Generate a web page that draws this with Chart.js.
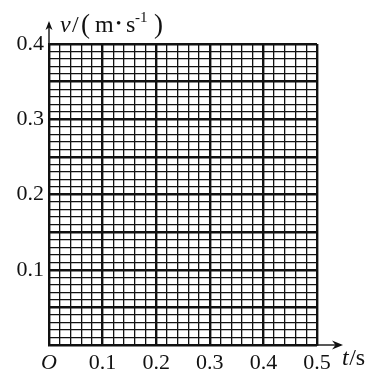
<!DOCTYPE html>
<html>
<head>
<meta charset="utf-8">
<script src="https://cdn.jsdelivr.net/npm/chart.js@4/dist/chart.umd.min.js"></script>
<style>
  html, body { margin: 0; padding: 0; background: #fff; }
  #wrap { width: 369px; height: 371px; position: relative; }
</style>
</head>
<body>
<div id="wrap"><canvas id="c" width="369" height="371"></canvas></div>
<script>
// ---- data ----
const xRange = [0, 0.5];          // t / s
const yRange = [0, 0.4];          // v / (m·s^-1)
const xMinorStep = 0.02;
const yMinorStep = 0.01;
const xTickLabels = ['O', '0.1', '0.2', '0.3', '0.4', '0.5'];
const yTickLabels = ['', '0.1', '0.2', '0.3', '0.4'];
const xTitle = ['t', '/s'];
const yTitle = ['v', '/', '(', 'm', '•', 's', '-1', ')'];
const points = [];                // blank answer grid: no plotted points

const SERIF = '"Liberation Serif", "Times New Roman", serif';
const INK = '#111';

function labelFor(value, labels, major) {
  const k = Math.round(value / major * 1000) / 1000;
  if (Math.abs(k - Math.round(k)) < 1e-6) return labels[Math.round(k)] ?? '';
  return '';
}

const axesPlugin = {
  id: 'axesDecor',
  afterDraw(chart) {
    const { ctx, chartArea: a } = chart;
    const xs = chart.scales.x, ys = chart.scales.y;
    const x0 = xs.getPixelForValue(xRange[0]);
    const y0 = ys.getPixelForValue(yRange[0]);
    ctx.save();
    ctx.strokeStyle = INK;
    ctx.fillStyle = INK;
    ctx.lineWidth = 1.4;
    // y axis extension + arrow
    const yTip = a.top - 23;
    ctx.beginPath(); ctx.moveTo(x0, a.top); ctx.lineTo(x0, yTip + 2); ctx.stroke();
    ctx.beginPath();
    ctx.moveTo(x0, yTip);
    ctx.lineTo(x0 - 3.5, yTip + 9);
    ctx.lineTo(x0, yTip + 6.5);
    ctx.lineTo(x0 + 3.5, yTip + 9);
    ctx.closePath(); ctx.fill();
    // x axis extension + arrow
    const xTip = a.right + 26;
    ctx.beginPath(); ctx.moveTo(a.right, y0); ctx.lineTo(xTip - 2, y0); ctx.stroke();
    ctx.beginPath();
    ctx.moveTo(xTip, y0);
    ctx.lineTo(xTip - 11, y0 - 4.5);
    ctx.lineTo(xTip - 7.5, y0);
    ctx.lineTo(xTip - 11, y0 + 4.5);
    ctx.closePath(); ctx.fill();

    // y title: v/(m·s^-1)
    ctx.textBaseline = 'alphabetic';
    ctx.textAlign = 'left';
    const by = a.top - 12;
    const yParts = [
      { t: yTitle[0], dx: 11,  f: 'italic 24px ' + SERIF, dy: 0 },
      { t: yTitle[1], dx: 23,  f: '24px ' + SERIF, dy: 0 },
      { t: yTitle[2], dx: 32,  f: '27px ' + SERIF, dy: 1 },
      { t: yTitle[3], dx: 46,  f: '24px ' + SERIF, dy: 0 },
      { t: yTitle[4], dx: 67,  f: '15px ' + SERIF, dy: -4 },
      { t: yTitle[5], dx: 77,  f: '24px ' + SERIF, dy: 0 },
      { t: yTitle[6], dx: 86,  f: '15px ' + SERIF, dy: -10 },
      { t: yTitle[7], dx: 105, f: '27px ' + SERIF, dy: 1 }
    ];
    for (const p of yParts) { ctx.font = p.f; ctx.fillText(p.t, x0 + p.dx, by + p.dy); }

    // x title: t/s
    const bx = y0 + 20;
    ctx.font = 'italic 24px ' + SERIF;
    ctx.fillText(xTitle[0], a.right + 25, bx);
    const tw = ctx.measureText(xTitle[0]).width;
    ctx.font = '24px ' + SERIF;
    ctx.fillText(xTitle[1], a.right + 25 + tw + 0.5, bx);
    ctx.restore();
  }
};

new Chart(document.getElementById('c'), {
  type: 'scatter',
  data: { datasets: [{ data: points, pointRadius: 0 }] },
  options: {
    responsive: false,
    animation: false,
    events: [],
    layout: { padding: { top: 44, right: 52, left: 0, bottom: 0 } },
    plugins: { legend: { display: false }, tooltip: { enabled: false } },
    scales: {
      x: {
        type: 'linear', min: xRange[0], max: xRange[1],
        afterFit: s => { s.height = 26; },
        border: { display: true, color: INK, width: 1.8 },
        grid: {
          drawTicks: false, color: INK,
          lineWidth: c => (c.index % 5 === 0 ? 2.4 : 1.3)
        },
        ticks: {
          stepSize: xMinorStep, autoSkip: false, maxRotation: 0, minRotation: 0,
          padding: 5, color: INK,
          font: c => ({ family: SERIF, size: 22, style: c.index === 0 ? 'italic' : 'normal' }),
          callback: v => labelFor(v, xTickLabels, 0.1)
        }
      },
      y: {
        type: 'linear', min: yRange[0], max: yRange[1],
        afterFit: s => { s.width = 49; },
        border: { display: true, color: INK, width: 1.8 },
        grid: {
          drawTicks: false, color: INK,
          lineWidth: c => (c.index % 5 === 0 ? 2.4 : 1.3)
        },
        ticks: {
          stepSize: yMinorStep, autoSkip: false, padding: 5, color: INK,
          font: { family: SERIF, size: 22 },
          callback: v => labelFor(v, yTickLabels, 0.1)
        }
      }
    }
  },
  plugins: [axesPlugin]
});
</script>
</body>
</html>
